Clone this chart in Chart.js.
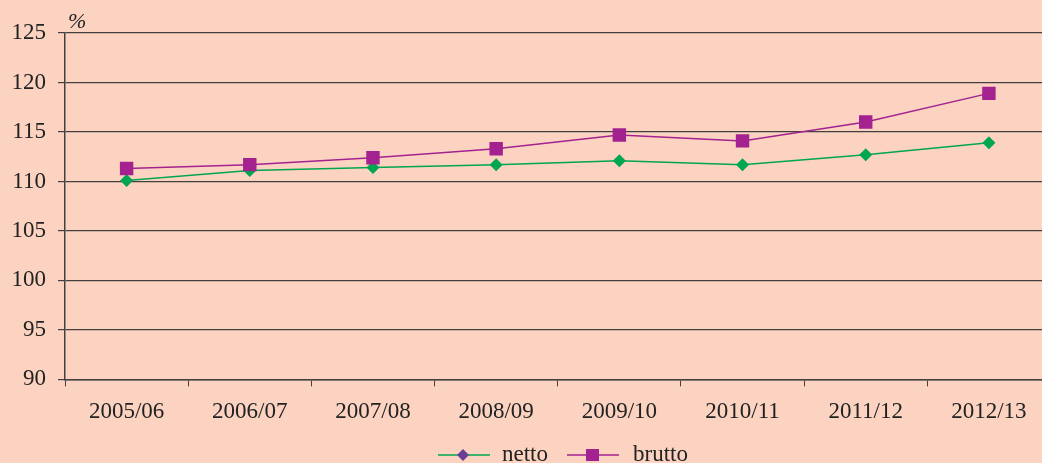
<!DOCTYPE html>
<html>
<head>
<meta charset="utf-8">
<script src="https://cdn.jsdelivr.net/npm/chart.js@4.4.1/dist/chart.umd.min.js"></script>
<style>
  html, body { margin: 0; padding: 0; overflow: hidden; background: #fcd3c1; }
  #wrap { width: 1060px; height: 463px; }
</style>
</head>
<body>
<div id="wrap"><canvas id="chart"></canvas></div>
<script>
// school years on the x axis
const YEARS = ['2005/06', '2006/07', '2007/08', '2008/09', '2009/10', '2010/11', '2011/12', '2012/13'];
// index values in %
const NETTO = [110.1, 111.1, 111.4, 111.7, 112.1, 111.7, 112.7, 113.9];
const BRUTTO = [111.3, 111.7, 112.4, 113.3, 114.7, 114.1, 116.0, 118.9];

const SERIES_LABELS = ['netto', 'brutto'];
const Y_MIN = 90, Y_MAX = 125, Y_STEP = 5;

const GRID = '#404040';
const GREEN = '#00a651';
const PURPLE = '#a3228f';
const LEGEND_DIAMOND = '#6a3d96';
const TEXT = '#222';
const FONT = '"Liberation Serif", "Times New Roman", serif';

// draws the % unit label and the line+marker legend
const extras = {
  id: 'extras',
  afterDraw(chart) {
    const ctx = chart.ctx;
    const area = chart.chartArea;
    ctx.save();
    ctx.fillStyle = TEXT;
    ctx.font = 'italic 22px ' + FONT;
    ctx.textBaseline = 'alphabetic';
    ctx.textAlign = 'left';
    ctx.fillText('%', area.left + 3, area.top - 5);

    const ly = 455;
    ctx.font = '23px ' + FONT;
    ctx.textBaseline = 'middle';
    // netto
    ctx.strokeStyle = GREEN;
    ctx.lineWidth = 1.5;
    ctx.beginPath(); ctx.moveTo(438, ly); ctx.lineTo(490, ly); ctx.stroke();
    ctx.fillStyle = LEGEND_DIAMOND;
    ctx.beginPath();
    ctx.moveTo(463, ly - 6); ctx.lineTo(469, ly); ctx.lineTo(463, ly + 6); ctx.lineTo(457, ly);
    ctx.closePath(); ctx.fill();
    ctx.fillStyle = TEXT;
    ctx.fillText(SERIES_LABELS[0], 502, ly);
    // brutto
    ctx.strokeStyle = PURPLE;
    ctx.beginPath(); ctx.moveTo(567, ly); ctx.lineTo(619, ly); ctx.stroke();
    ctx.fillStyle = PURPLE;
    ctx.fillRect(586, ly - 6, 13, 12);
    ctx.fillStyle = TEXT;
    ctx.fillText(SERIES_LABELS[1], 633, ly);
    ctx.restore();
  }
};

new Chart(document.getElementById('chart'), {
  type: 'line',
  data: {
    labels: YEARS,
    datasets: [
      {
        label: SERIES_LABELS[1],
        data: BRUTTO,
        borderColor: PURPLE,
        backgroundColor: PURPLE,
        borderWidth: 1.5,
        pointStyle: 'rect',
        pointRadius: 9.5,
        pointBorderWidth: 0,
        pointHoverRadius: 9.5,
        tension: 0,
      },
      {
        label: SERIES_LABELS[0],
        data: NETTO,
        borderColor: GREEN,
        backgroundColor: GREEN,
        borderWidth: 1.5,
        pointStyle: 'rectRot',
        pointRadius: 6.5,
        pointBorderWidth: 0,
        pointHoverRadius: 6.5,
        tension: 0,
      },
    ],
  },
  options: {
    responsive: true,
    maintainAspectRatio: false,
    animation: false,
    layout: { padding: { top: 33, right: 7, bottom: 25, left: 0 } },
    plugins: {
      legend: { display: false },
      tooltip: { enabled: false },
    },
    scales: {
      x: {
        offset: true,
        grid: {
          offset: true,
          drawOnChartArea: false,
          drawTicks: true,
          tickLength: 7,
          color: GRID,
        },
        border: { display: true, color: GRID, width: 1.5 },
        ticks: {
          color: TEXT,
          font: { family: FONT, size: 23 },
          padding: 12,
          maxRotation: 0,
        },
      },
      y: {
        min: Y_MIN,
        max: Y_MAX,
        afterFit(scale) { scale.width = 65; },
        ticks: {
          stepSize: Y_STEP,
          color: TEXT,
          font: { family: FONT, size: 23 },
          padding: 12,
        },
        grid: {
          color: GRID,
          lineWidth: 1.2,
          tickLength: 7,
          drawTicks: true,
        },
        border: { display: true, color: GRID, width: 1.5 },
      },
    },
  },
  plugins: [extras],
});
</script>
</body>
</html>
